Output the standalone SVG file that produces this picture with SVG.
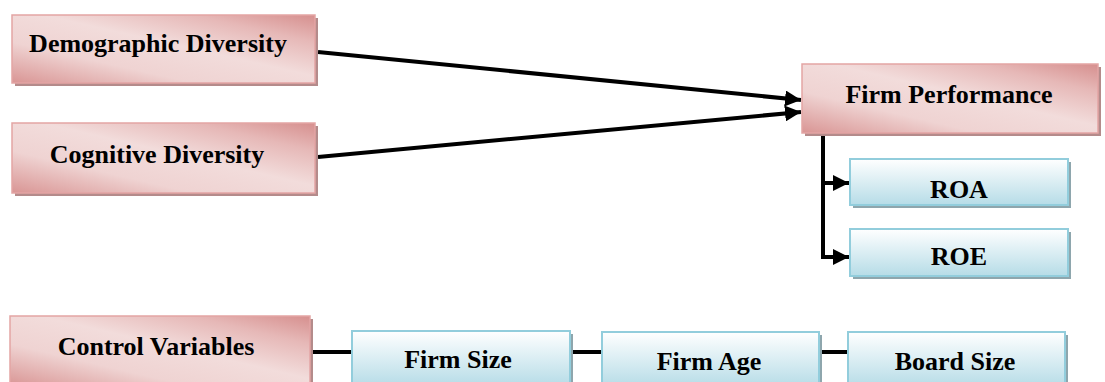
<svg xmlns="http://www.w3.org/2000/svg" width="1105" height="382" viewBox="0 0 1105 382">
<defs>
<linearGradient id="pink" x1="0" y1="1" x2="1" y2="0">
<stop offset="0" stop-color="#d99594"/>
<stop offset="0.3" stop-color="#efd3d2"/>
<stop offset="0.55" stop-color="#f2dcdb"/>
<stop offset="0.8" stop-color="#e6b8b7"/>
<stop offset="1" stop-color="#d68f8e"/>
</linearGradient>
<linearGradient id="blue" x1="0" y1="0" x2="0" y2="1">
<stop offset="0" stop-color="#ffffff"/>
<stop offset="1" stop-color="#b6dce7"/>
</linearGradient>
<marker id="arr" markerWidth="4" markerHeight="4" refX="4" refY="2" orient="auto" markerUnits="strokeWidth">
<path d="M0,0 L4,2 L0,4 Z" fill="#000"/>
</marker>
</defs>
<style>
.pk{fill:url(#pink);stroke:#e3a5a4;stroke-width:1.5}
.pks{fill:#b48b8b}
.bl{fill:url(#blue);stroke:#92cddc;stroke-width:2}
.bls{fill:#8ea6ad}
.t{font-family:'Liberation Serif','Times New Roman',serif;font-weight:bold;font-size:26px;fill:#000;text-anchor:middle}
.c{stroke:#000;stroke-width:4;fill:none}
</style>
<g id="connectors">
<line class="c" x1="318" y1="52" x2="801" y2="100" marker-end="url(#arr)"/>
<line class="c" x1="318" y1="157" x2="801" y2="112" marker-end="url(#arr)"/>
<polyline class="c" points="823,135 823,183 849,183" marker-end="url(#arr)"/>
<polyline class="c" points="823,180 823,257 849,257" marker-end="url(#arr)"/>
<line class="c" x1="313" y1="352" x2="353" y2="352"/>
<line class="c" x1="571" y1="352" x2="602" y2="352"/>
<line class="c" x1="819" y1="352" x2="850" y2="352"/>
</g>
<g id="demographic">
<rect class="pks" x="15" y="18" width="303" height="68"/>
<rect class="pk" x="12" y="15" width="303" height="68"/>
<text class="t" x="158" y="52">Demographic Diversity</text>
</g>
<g id="cognitive">
<rect class="pks" x="15" y="126" width="303" height="70"/>
<rect class="pk" x="12" y="123" width="303" height="70"/>
<text class="t" x="157" y="163">Cognitive Diversity</text>
</g>
<g id="firmperformance">
<rect class="pks" x="805" y="67" width="296" height="69"/>
<rect class="pk" x="802" y="64" width="296" height="69"/>
<text class="t" x="949" y="103">Firm Performance</text>
</g>
<g id="roa">
<rect class="bls" x="853" y="162" width="218" height="46"/>
<rect class="bl" x="850" y="159" width="218" height="46"/>
<text class="t" x="959" y="198">ROA</text>
</g>
<g id="roe">
<rect class="bls" x="853" y="232" width="218" height="47"/>
<rect class="bl" x="850" y="229" width="218" height="47"/>
<text class="t" x="959" y="265">ROE</text>
</g>
<g id="control">
<rect class="pks" x="13" y="319" width="300" height="70"/>
<rect class="pk" x="10" y="316" width="300" height="70"/>
<text class="t" x="156" y="355">Control Variables</text>
</g>
<g id="firmsize">
<rect class="bls" x="355" y="334" width="218" height="55"/>
<rect class="bl" x="352" y="331" width="218" height="55"/>
<text class="t" x="458" y="368">Firm Size</text>
</g>
<g id="firmage">
<rect class="bls" x="605" y="335" width="217" height="55"/>
<rect class="bl" x="602" y="332" width="217" height="55"/>
<text class="t" x="709" y="370">Firm Age</text>
</g>
<g id="boardsize">
<rect class="bls" x="851" y="335" width="217" height="55"/>
<rect class="bl" x="848" y="332" width="217" height="55"/>
<text class="t" x="955" y="370">Board Size</text>
</g>
</svg>
